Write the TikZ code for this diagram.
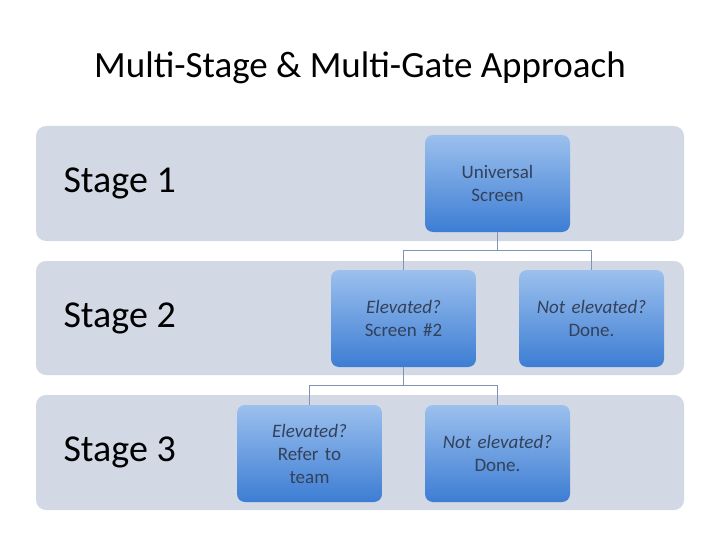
\documentclass[tikz,border=0pt]{standalone}
\usepackage{fontspec}
\setmainfont{Carlito}
\begin{document}
\begin{tikzpicture}[x=1pt,y=-1pt,
 band/.style={fill=band,draw=none,rounded corners=10pt},
 box/.style={rounded corners=8pt,top color=boxtop,bottom color=boxbot,draw=none,minimum width=145pt,minimum height=97pt,text width=130pt,align=center,font=\fontsize{19}{23}\selectfont,text=txt,inner sep=0pt},
 stage/.style={anchor=west,font=\fontsize{38}{44}\selectfont,text=black},
 conn/.style={draw=line,line width=0.8pt}]
\definecolor{band}{HTML}{D2D9E5}
\definecolor{boxtop}{HTML}{9CC0EE}
\definecolor{boxbot}{HTML}{3C7DD3}
\definecolor{txt}{HTML}{33415A}
\definecolor{line}{HTML}{7F93B3}
\useasboundingbox (0,0) rectangle (720,540);
\fill[white] (0,0) rectangle (720,540);
\node[font=\fontsize{37}{44}\selectfont] (title) at (360,68) {Multi-Stage \& Multi-Gate Approach};
\path[band] (36,126) rectangle (684,241);
\path[band] (36,261) rectangle (684,375);
\path[band] (36,395) rectangle (684,510);
\node[stage] (s1) at (60,183) {Stage 1};
\node[stage] (s2) at (60,318) {Stage 2};
\node[stage] (s3) at (60,452) {Stage 3};
\node[box] (u) at (497.5,183.5) {Universal\\Screen};
\node[box] (e2) at (403.5,318.5) {\textit{Elevated?}\\Screen \#2};
\node[box] (n2) at (591.5,318.5) {\textit{Not elevated?}\\Done.};
\node[box] (e3) at (309.5,453.5) {\textit{Elevated?}\\Refer to\\team};
\node[box] (n3) at (497.5,453.5) {\textit{Not elevated?}\\Done.};
\draw[conn] (u.south) -- ++(0,18) -| (e2.north);
\draw[conn] (u.south) ++(0,18) -| (n2.north);
\draw[conn] (e2.south) -- ++(0,18) -| (e3.north);
\draw[conn] (e2.south) ++(0,18) -| (n3.north);
\end{tikzpicture}
\end{document}
